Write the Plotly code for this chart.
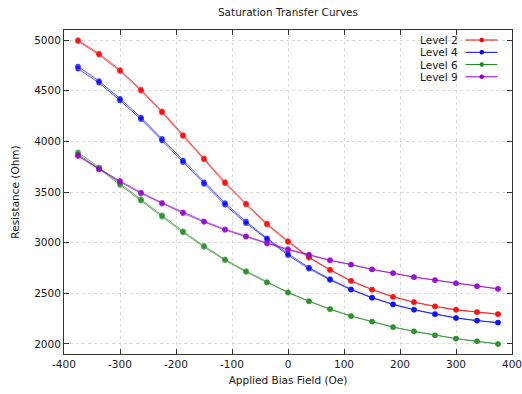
import plotly.graph_objects as go

field = [-375, -337.5, -300, -262.5, -225, -187.5, -150, -112.5, -75, -37.5, 0,
         37.5, 75, 112.5, 150, 187.5, 225, 262.5, 300, 337.5, 375]

level2_a = [5000, 4868, 4706, 4512, 4298, 4064, 3834, 3598, 3386, 3188, 3016, 2858, 2734, 2624, 2538, 2466, 2413, 2371, 2337, 2314, 2294]
level2_b = [4990, 4855, 4694, 4500, 4286, 4052, 3822, 3586, 3376, 3178, 3006, 2850, 2728, 2620, 2535, 2464, 2411, 2369, 2336, 2313, 2293]
level4_a = [4740, 4596, 4422, 4236, 4026, 3812, 3596, 3392, 3208, 3044, 2890, 2754, 2640, 2540, 2458, 2392, 2338, 2295, 2256, 2230, 2210]
level4_b = [4718, 4578, 4404, 4218, 4008, 3794, 3578, 3374, 3192, 3030, 2876, 2742, 2632, 2534, 2454, 2389, 2336, 2293, 2255, 2229, 2209]
level6_a = [3892, 3744, 3584, 3428, 3270, 3112, 2968, 2835, 2720, 2612, 2510, 2424, 2345, 2276, 2220, 2167, 2124, 2085, 2052, 2026, 2000]
level6_b = [3874, 3730, 3570, 3414, 3256, 3100, 2956, 2825, 2710, 2604, 2504, 2419, 2341, 2273, 2218, 2165, 2123, 2084, 2051, 2025, 1999]
level9_a = [3862, 3730, 3610, 3496, 3394, 3299, 3212, 3133, 3063, 2998, 2936, 2882, 2828, 2785, 2736, 2699, 2660, 2630, 2600, 2570, 2544]
level9_b = [3852, 3722, 3600, 3486, 3384, 3290, 3203, 3125, 3057, 2990, 2928, 2876, 2824, 2782, 2734, 2697, 2659, 2629, 2599, 2569, 2543]

series_names = ["Level 2", "Level 4", "Level 6", "Level 9"]
series_colors = ["#ff0000", "#0000ff", "#228b22", "#9400d3"]
series_a = [level2_a, level4_a, level6_a, level9_a]
series_b = [level2_b, level4_b, level6_b, level9_b]

x_ticks = [-400, -300, -200, -100, 0, 100, 200, 300, 400]
y_ticks = [2000, 2500, 3000, 3500, 4000, 4500, 5000]

FONT = "DejaVu Sans"
FS = 10.5
TXT = "#1a1a1a"

fig = go.Figure()
for name, col, ya, yb in zip(series_names, series_colors, series_a, series_b):
    for y in (ya, yb):
        fig.add_trace(go.Scatter(
            x=field, y=y, mode="lines+markers", name=name, showlegend=False,
            line=dict(color=col, width=0.9),
            marker=dict(color=col, size=5.5, symbol="circle"),
            opacity=0.75,
        ))

# manual gnuplot-style legend (text left of sample)
W, H = 522, 394
ml, mr, mt, mb = 64, 10, 30, 40
pw, ph = W - ml - mr, H - mt - mb
def px(x):
    return (x - ml) / pw
def py(y):
    return 1 - (y - mt) / ph

leg_rows = [40, 52.3, 64.5, 76.8]
shapes = []
annotations = []
for name, col, yr in zip(series_names, series_colors, leg_rows):
    annotations.append(dict(xref="paper", yref="paper", x=px(459.5), y=py(yr),
                            xanchor="right", yanchor="middle", showarrow=False,
                            text=name, font=dict(family=FONT, size=FS, color=TXT)))
    shapes.append(dict(type="line", xref="paper", yref="paper",
                       x0=px(465.5), x1=px(497.5), y0=py(yr), y1=py(yr),
                       line=dict(color=col, width=1)))
    shapes.append(dict(type="circle", xref="paper", yref="paper",
                       x0=px(479.5), x1=px(484.1), y0=py(yr + 2.3), y1=py(yr - 2.3),
                       line=dict(color=col, width=0), fillcolor=col))

fig.update_layout(
    width=W, height=H,
    margin=dict(l=ml, r=mr, t=mt, b=mb, autoexpand=False),
    paper_bgcolor="white", plot_bgcolor="white",
    showlegend=False,
    font=dict(family=FONT, size=FS, color=TXT),
    title=dict(text="Saturation Transfer Curves", x=0.5, xref="paper", y=1 - 12.5 / H,
               xanchor="center", yanchor="middle", font=dict(family=FONT, size=FS, color=TXT)),
    shapes=shapes,
    annotations=annotations,
)
fig.update_xaxes(
    range=[-400, 400], tickvals=x_ticks, ticktext=[str(v) for v in x_ticks],
    ticks="inside", ticklen=5, tickcolor="#333", mirror="allticks",
    showline=True, linecolor="#333", linewidth=1,
    showgrid=True, gridcolor="#d9d9d9", griddash="dot", gridwidth=1,
    zeroline=False, ticklabeloverflow="allow", automargin=False,
    title=dict(text="Applied Bias Field (Oe)", font=dict(family=FONT, size=FS, color=TXT), standoff=8),
    tickfont=dict(family=FONT, size=FS, color=TXT),
)
fig.update_yaxes(
    range=[1900, 5100], tickvals=y_ticks, ticktext=[str(v) for v in y_ticks],
    ticks="inside", ticklen=5, tickcolor="#333", mirror="allticks",
    showline=True, linecolor="#333", linewidth=1,
    showgrid=True, gridcolor="#d9d9d9", griddash="dot", gridwidth=1,
    zeroline=False, ticklabeloverflow="allow", automargin=False,
    title=dict(text="Resistance (Ohm)", font=dict(family=FONT, size=FS, color=TXT), standoff=12),
    tickfont=dict(family=FONT, size=FS, color=TXT),
)

fig.write_html("out.html")
